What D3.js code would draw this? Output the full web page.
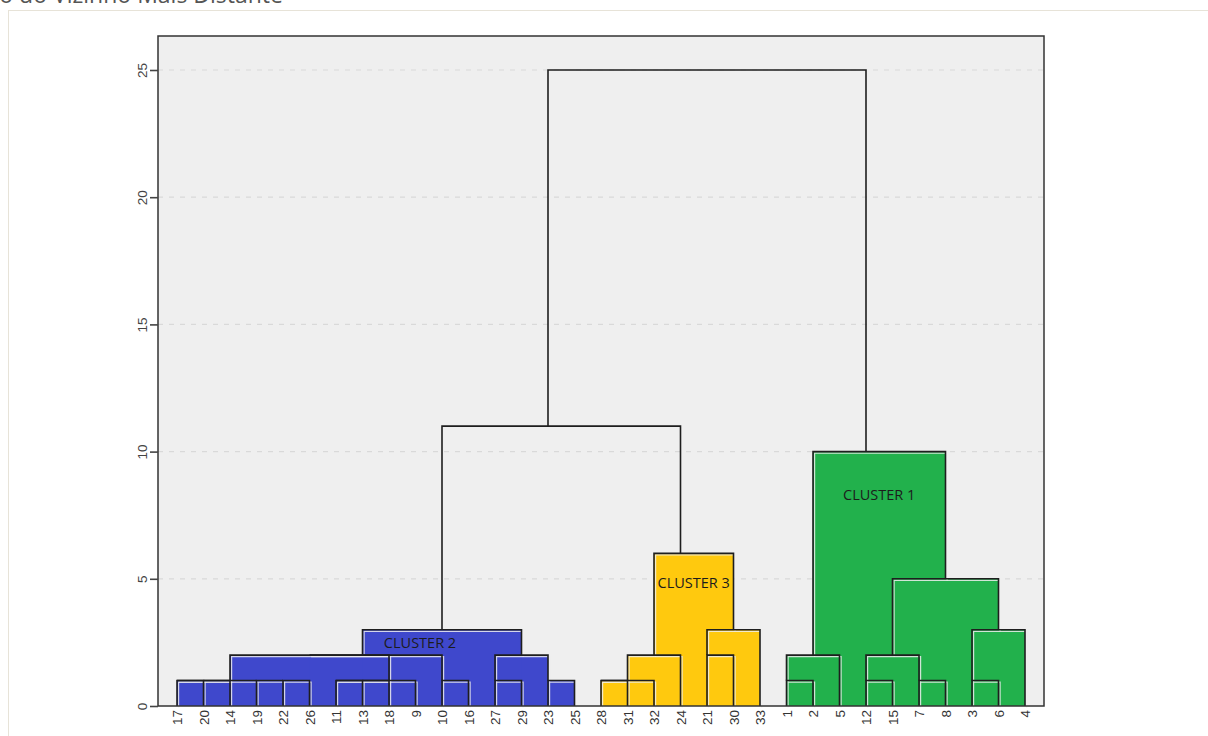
<!DOCTYPE html>
<html>
<head>
<meta charset="utf-8">
<script src="https://cdn.jsdelivr.net/npm/d3@7"></script>
<style>
  body { margin: 0; background: #fff; }
  svg { display: block; }
</style>
</head>
<body>
<svg id="chart" width="1208" height="736"></svg>
<script>
// Leaf order along the horizontal axis (observation numbers)
const leafOrder = ["17","20","14","19","22","26","11","13","18","9","10","16","27","29","23","25",
                   "28","31","32","24","21","30","33",
                   "1","2","5","12","15","7","8","3","6","4"];

// Agglomeration steps: [node id, left child, right child, merge distance]
const linkage = [
  ["M1","17","20",1], ["M2","M1","14",1], ["M3","22","26",1], ["M4","19","M3",1], ["M5","M2","M4",1],
  ["M6","11","13",1], ["M7","M6","18",1], ["M8","M7","9",1], ["M9","10","16",1],
  ["M10","M5","M8",2], ["M11","M10","M9",2],
  ["M12","27","29",1], ["M13","23","25",1], ["M14","M12","M13",2],
  ["M15","M11","M14",3],
  ["M16","28","31",1], ["M17","M16","32",1], ["M18","M17","24",2],
  ["M19","21","30",2], ["M20","M19","33",3], ["M21","M18","M20",6],
  ["M22","1","2",1], ["M23","M22","5",2], ["M24","12","15",1], ["M25","7","8",1],
  ["M26","M24","M25",2], ["M27","3","6",1], ["M28","M27","4",3], ["M29","M26","M28",5],
  ["M30","M23","M29",10],
  ["M31","M15","M21",11],
  ["M32","M31","M30",25]
];

// Clusters: name and the node that roots each one
const clusterNames = ["CLUSTER 1", "CLUSTER 2", "CLUSTER 3"];
const clusterRoots = ["M30", "M15", "M21"];

const yTicks = [0, 5, 10, 15, 20, 25];

// Styling
const clusterColors = { "CLUSTER 1": "#22b14c", "CLUSTER 2": "#3f48cc", "CLUSTER 3": "#ffc90e" };
const labelOffset = { "CLUSTER 1": [0, 48], "CLUSTER 2": [-22, 18], "CLUSTER 3": [0, 35] };
const plot = { left: 158, right: 1044, top: 36, bottom: 706 };

const svg = d3.select("#chart");

// page panel and (partly hidden) heading
svg.append("rect")
  .attr("x", 8.5).attr("y", 10.5).attr("width", 1240).attr("height", 780)
  .attr("fill", "#fff").attr("stroke", "#e7e3d8");

svg.append("text")
  .attr("x", 283).attr("y", 3)
  .attr("text-anchor", "end")
  .attr("font-family", "'Open Sans', sans-serif")
  .attr("font-size", 23)
  .attr("fill", "#555")
  .text("Dendrograma – Método do Vizinho Mais Distante");

const x = d3.scalePoint().domain(leafOrder).range([plot.left, plot.right]).padding(0.717);
const y = d3.scaleLinear().domain([0, 25]).range([plot.bottom, 70]);

// plot background
svg.append("rect")
  .attr("x", plot.left).attr("y", plot.top)
  .attr("width", plot.right - plot.left).attr("height", plot.bottom - plot.top)
  .attr("fill", "#efefef");

// dashed gridlines
svg.append("g").selectAll("line")
  .data(yTicks.filter(d => d > 0))
  .join("line")
  .attr("x1", plot.left).attr("x2", plot.right)
  .attr("y1", d => y(d)).attr("y2", d => y(d))
  .attr("stroke", "#d9d9d9").attr("stroke-width", 1.2)
  .attr("stroke-dasharray", "5,6");

// build the tree: each merged node sits at the leaf slot midway between its children
const nodes = new Map();
leafOrder.forEach((id, i) => nodes.set(id, { id, idx: i, h: 0, leaf: true }));
linkage.forEach(([id, l, r, h]) => {
  const L = nodes.get(l), R = nodes.get(r);
  nodes.set(id, { id, left: L, right: R, h, idx: Math.floor((L.idx + R.idx) / 2), leaf: false });
});
const xAt = i => x(leafOrder[i]);

// cluster membership of each merge
const clusterOf = new Map();
clusterRoots.forEach((root, k) => {
  const stack = [nodes.get(root)];
  while (stack.length) {
    const n = stack.pop();
    if (n.leaf) continue;
    clusterOf.set(n.id, clusterNames[k]);
    stack.push(n.left, n.right);
  }
});

const merges = linkage.map(d => nodes.get(d[0]));

// filled blocks for merges inside a cluster
svg.append("g").selectAll("rect")
  .data(merges.filter(n => clusterOf.has(n.id)))
  .join("rect")
  .attr("x", n => xAt(n.left.idx))
  .attr("y", n => y(n.h))
  .attr("width", n => xAt(n.right.idx) - xAt(n.left.idx))
  .attr("height", n => y(0) - y(n.h))
  .attr("fill", n => clusterColors[clusterOf.get(n.id)]);

const linkPath = n =>
  `M${xAt(n.left.idx)},${y(n.left.h)}V${y(n.h)}H${xAt(n.right.idx)}V${y(n.right.h)}`;

// light bevel under the links inside clusters
svg.append("g")
  .attr("transform", "translate(1.6,1.6)")
  .selectAll("path")
  .data(merges.filter(n => clusterOf.has(n.id)))
  .join("path")
  .attr("d", linkPath)
  .attr("fill", "none")
  .attr("stroke", "#eeeeee").attr("stroke-width", 1.2)
  .attr("stroke-opacity", 0.85);

// dendrogram links
svg.append("g").selectAll("path")
  .data(merges)
  .join("path")
  .attr("d", linkPath)
  .attr("fill", "none")
  .attr("stroke", "#1e1e1e").attr("stroke-width", 1.6);

// cluster labels
svg.append("g").selectAll("text")
  .data(clusterRoots.map((r, k) => ({ node: nodes.get(r), name: clusterNames[k] })))
  .join("text")
  .attr("x", d => (xAt(d.node.left.idx) + xAt(d.node.right.idx)) / 2 + labelOffset[d.name][0])
  .attr("y", d => y(d.node.h) + labelOffset[d.name][1])
  .attr("text-anchor", "middle")
  .attr("font-family", "'Open Sans', sans-serif")
  .attr("font-size", 14.5)
  .attr("fill", "#1c1c1c")
  .text(d => d.name);

// frame
svg.append("rect")
  .attr("x", plot.left).attr("y", plot.top)
  .attr("width", plot.right - plot.left).attr("height", plot.bottom - plot.top)
  .attr("fill", "none").attr("stroke", "#333").attr("stroke-width", 1.5);

// vertical axis
const yAxis = svg.append("g")
  .attr("transform", `translate(${plot.left},0)`)
  .call(d3.axisLeft(y).tickValues(yTicks).tickSize(8));
yAxis.select(".domain").remove();
yAxis.selectAll(".tick line").attr("stroke", "#444").attr("stroke-width", 1.6);
yAxis.selectAll(".tick text")
  .attr("transform", "rotate(-90)")
  .attr("x", 0).attr("y", -11).attr("dy", null)
  .attr("text-anchor", "middle")
  .attr("font-family", "'Liberation Sans', Arial, sans-serif")
  .attr("font-size", 13.5)
  .attr("fill", "#444");

// leaf labels
const xAxis = svg.append("g")
  .attr("transform", `translate(0,${plot.bottom})`)
  .call(d3.axisBottom(x).tickSize(0));
xAxis.select(".domain").remove();
xAxis.selectAll(".tick text")
  .attr("transform", "rotate(-90)")
  .attr("x", -4).attr("y", 0).attr("dy", "0.35em")
  .attr("text-anchor", "end")
  .attr("font-family", "'Liberation Sans', Arial, sans-serif")
  .attr("font-size", 13.5)
  .attr("fill", "#333");
</script>
</body>
</html>
